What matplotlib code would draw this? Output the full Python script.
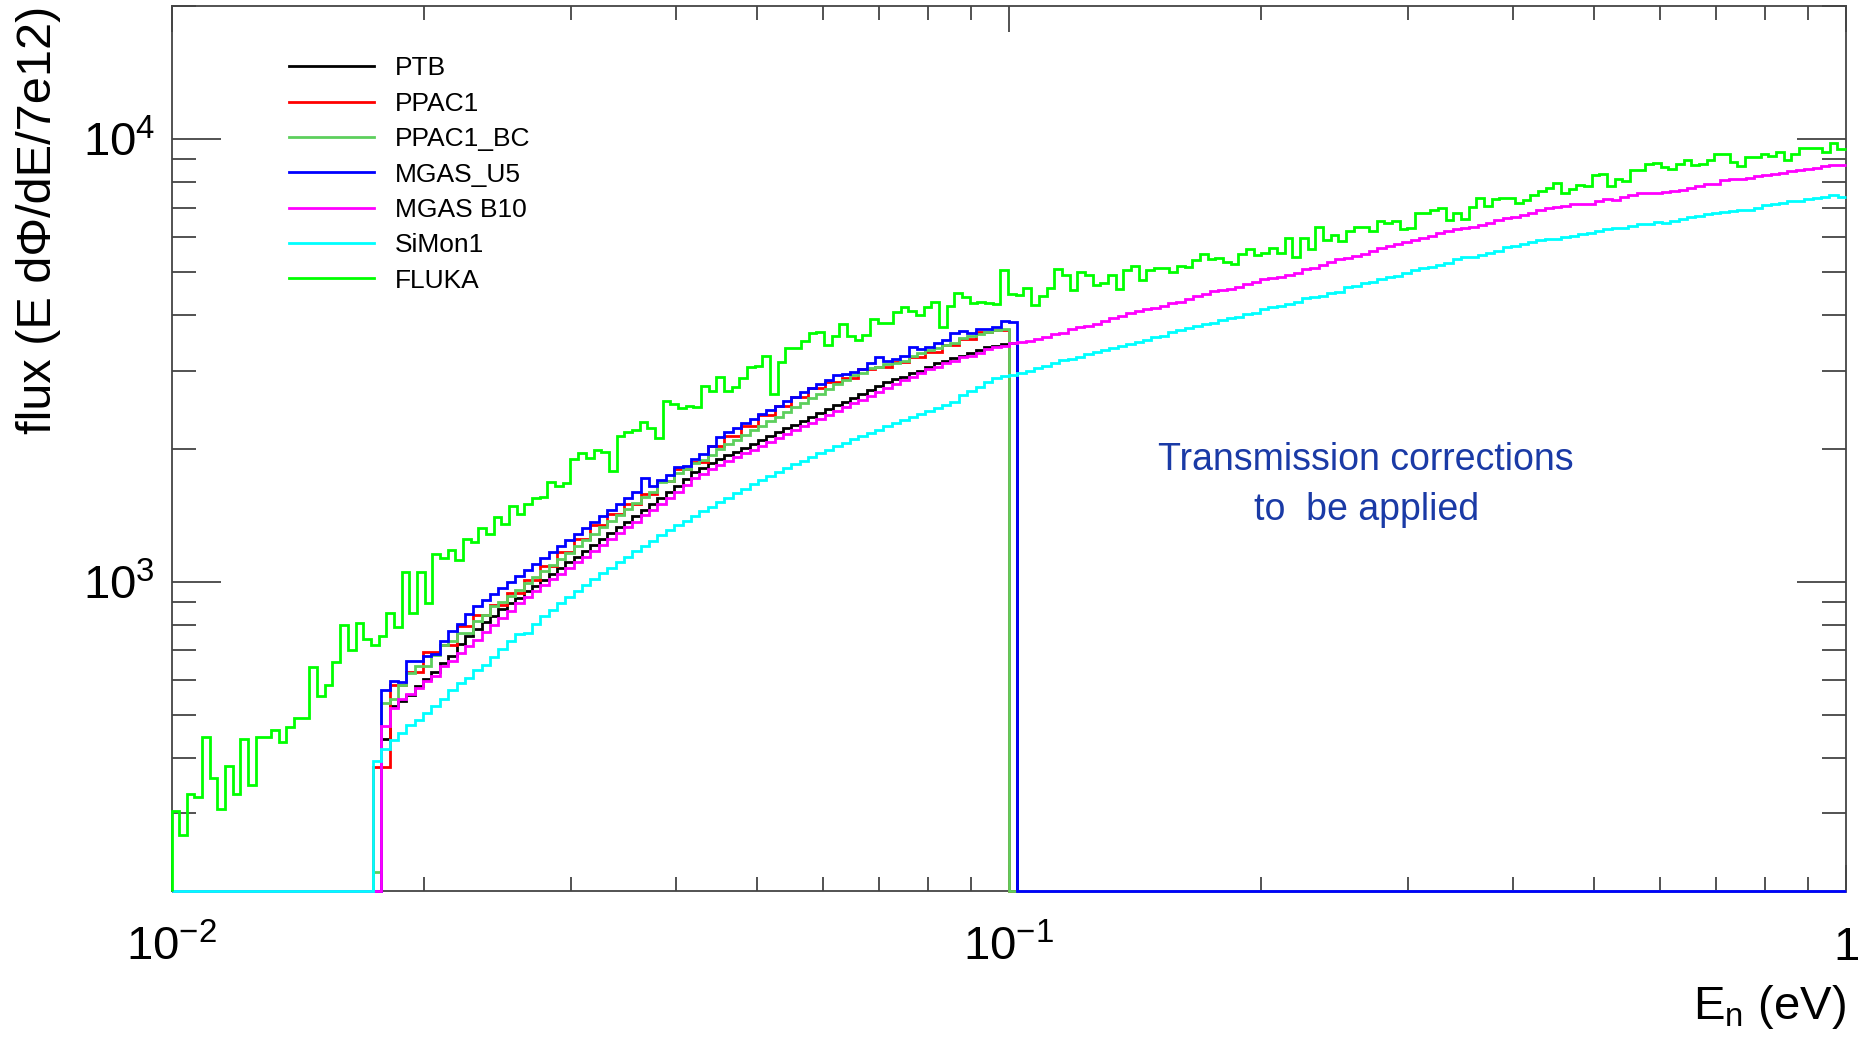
import numpy as np
import matplotlib.pyplot as plt
from matplotlib.lines import Line2D
from matplotlib.ticker import FixedLocator, FixedFormatter, LogLocator, NullFormatter

plt.rcParams['font.family'] = ['Liberation Sans', 'DejaVu Sans']
plt.rcParams['mathtext.fontset'] = 'custom'
plt.rcParams['mathtext.rm'] = 'Liberation Sans'
plt.rcParams['mathtext.it'] = 'Liberation Sans:italic'

# energy binning: 100 bins/decade for most detectors, PPAC1 50/decade, FLUKA its own grid
edges = np.logspace(-2, 0, 201)
edges_ppac = np.logspace(-2, 0, 101)
edges_fluka = np.clip(np.logspace(-2.0100, 0.0079, 221), 0.01, 1.0)

# flux values per bin (bin index of first value in *_start)
ptb_start = 25
ptb = [440, 523, 537, 556, 580, 604, 624, 655, 679, 723,
       755, 780, 810, 835, 869, 895, 920, 951, 980, 1011,
       1042, 1073, 1106, 1140, 1174, 1210, 1249, 1288, 1327, 1367,
       1409, 1455, 1499, 1545, 1591, 1642, 1706, 1766, 1806, 1853,
       1892, 1930, 1969, 2009, 2049, 2091, 2133, 2176, 2220, 2265,
       2310, 2357, 2404, 2452, 2502, 2552, 2604, 2656, 2711, 2766,
       2821, 2870, 2908, 2958, 2999, 3063, 3116, 3160, 3199, 3237,
       3294, 3340, 3386, 3409, 3440, 3458]

ppac1_start = 12
ppac1 = [381, 585, 624, 692, 720, 794, 839, 888, 945, 1010,
         1085, 1165, 1250, 1340, 1420, 1500, 1579, 1690, 1796, 1869,
         2031, 2130, 2250, 2380, 2500, 2620, 2740, 2820, 2893, 3020,
         3063, 3132, 3215, 3311, 3428, 3531, 3673, 3706]

ppac1_bc_start = 24
ppac1_bc = [221, 532, 542, 585, 622, 644, 646, 684, 721, 733,
            766, 766, 814, 842, 880, 898, 928, 959, 991, 1023,
            1057, 1091, 1127, 1164, 1202, 1242, 1282, 1327, 1371, 1416,
            1462, 1510, 1558, 1591, 1676, 1693, 1759, 1796, 1853, 1886,
            1935, 1996, 2046, 2094, 2148, 2198, 2249, 2307, 2360, 2421,
            2477, 2541, 2600, 2661, 2729, 2793, 2864, 2933, 2969, 3044,
            3063, 3101, 3116, 3160, 3237, 3280, 3337, 3370, 3428, 3458,
            3549, 3592, 3636, 3673, 3700, 3720]

mgas_u5_start = 25
mgas_u5 = [568, 598, 594, 661, 661, 679, 688, 733, 773, 804,
           845, 883, 911, 940, 968, 1000, 1030, 1064, 1096, 1132,
           1167, 1205, 1242, 1282, 1321, 1365, 1406, 1452, 1496, 1545,
           1594, 1714, 1647, 1699, 1744, 1815, 1827, 1895, 1945, 2031,
           2129, 2178, 2228, 2280, 2333, 2388, 2443, 2500, 2559, 2618,
           2679, 2742, 2805, 2864, 2933, 2948, 2985, 3020, 3116, 3215,
           3160, 3182, 3237, 3398, 3357, 3386, 3458, 3518, 3655, 3687,
           3642, 3719, 3719, 3758, 3890, 3870]

mgas_b10_start = 25
mgas_b10 = [473, 519, 543, 558, 575, 598, 613, 644, 661, 690,
            714, 737, 770, 800, 828, 857, 895, 923, 951, 982,
            1012, 1042, 1074, 1107, 1140, 1175, 1213, 1250, 1288, 1327,
            1368, 1413, 1455, 1500, 1545, 1594, 1656, 1715, 1753, 1799,
            1837, 1874, 1912, 1950, 1989, 2030, 2071, 2113, 2155, 2199,
            2243, 2288, 2334, 2381, 2429, 2478, 2528, 2579, 2632, 2685,
            2739, 2795, 2851, 2908, 2969, 3020, 3063, 3116, 3160, 3215,
            3237, 3294, 3351, 3386, 3416, 3458, 3480, 3507, 3531, 3568,
            3624, 3655, 3725, 3758, 3784, 3823, 3890, 3938, 3993, 4042,
            4091, 4127, 4149, 4198, 4256, 4293, 4353, 4429, 4467, 4538,
            4561, 4585, 4641, 4697, 4763, 4831, 4864, 4890, 4932, 4993,
            5088, 5124, 5195, 5268, 5351, 5397, 5453, 5501, 5596, 5665,
            5734, 5794, 5844, 5916, 5989, 6051, 6124, 6199, 6264, 6307,
            6341, 6396, 6474, 6566, 6622, 6679, 6737, 6821, 6916, 6977,
            7013, 7074, 7124, 7140, 7150, 7245, 7321, 7283, 7385, 7475,
            7540, 7566, 7578, 7605, 7645, 7698, 7764, 7846, 7914, 7942,
            8080, 8123, 8151, 8194, 8264, 8322, 8366, 8409, 8482, 8541,
            8586, 8630, 8690, 8736, 8736]

simon1_start = 24
simon1 = [394, 419, 438, 454, 474, 486, 505, 523, 543, 568,
          591, 606, 631, 649, 676, 705, 733, 762, 766, 804,
          835, 865, 895, 925, 955, 984, 1014, 1045, 1076, 1109,
          1140, 1172, 1205, 1239, 1274, 1306, 1340, 1374, 1409, 1445,
          1479, 1514, 1549, 1585, 1622, 1660, 1694, 1730, 1766, 1803,
          1841, 1879, 1914, 1950, 1986, 2023, 2061, 2099, 2138, 2173,
          2208, 2244, 2280, 2317, 2355, 2393, 2432, 2472, 2512, 2553,
          2640, 2700, 2760, 2830, 2892, 2917, 2935, 2960, 2999, 3036,
          3078, 3127, 3170, 3183, 3215, 3271, 3299, 3340, 3369, 3416,
          3446, 3475, 3518, 3580, 3598, 3673, 3705, 3738, 3790, 3816,
          3836, 3903, 3937, 3972, 4020, 4055, 4133, 4169, 4198, 4235,
          4294, 4369, 4392, 4430, 4499, 4523, 4642, 4666, 4723, 4748,
          4831, 4890, 4916, 4976, 5062, 5106, 5151, 5195, 5240, 5351,
          5407, 5425, 5472, 5520, 5587, 5695, 5734, 5794, 5845, 5916,
          5947, 5947, 5999, 6051, 6110, 6124, 6199, 6253, 6307, 6307,
          6362, 6428, 6428, 6507, 6451, 6530, 6587, 6656, 6713, 6760,
          6796, 6831, 6878, 6914, 6914, 6975, 7097, 7134, 7159, 7245,
          7258, 7321, 7347, 7385, 7475, 7385]

# FLUKA: first bin lies below 0.01 eV (empty), the last one is cut at 1 eV
fluka = [0, 303, 267, 332, 327, 445, 361, 307, 384, 332, 441,
         347, 445, 445, 463, 434, 469, 491, 491, 641, 553,
         585, 659, 800, 702, 807, 743, 721, 755, 850, 789,
         1050, 850, 1050, 895, 1155, 1131, 1180, 1120, 1250, 1230,
         1320, 1280, 1400, 1350, 1480, 1420, 1500, 1545, 1558, 1679,
         1647, 1670, 1895, 1958, 1908, 1986, 1969, 1775, 2136, 2185,
         2204, 2301, 2230, 2117, 2566, 2518, 2475, 2497, 2480, 2770,
         2699, 2897, 2700, 2760, 2892, 3052, 3074, 3237, 2650, 3144,
         3370, 3370, 3507, 3654, 3673, 3428, 3592, 3823, 3592, 3519,
         3611, 3916, 3836, 3849, 4076, 4169, 4098, 4007, 4183, 4278,
         3770, 4198, 4483, 4406, 4256, 4278, 4256, 4234, 5061, 4460,
         4450, 4617, 4220, 4422, 4603, 5087, 4932, 4561, 5001, 4932,
         4682, 4723, 4932, 4585, 5062, 5168, 4806, 5062, 5106, 5124,
         5001, 5168, 5132, 5332, 5502, 5359, 5396, 5267, 5221, 5502,
         5637, 5473, 5540, 5685, 5521, 5987, 5425, 5989, 5636, 6341,
         5916, 6073, 5895, 6212, 6341, 6341, 6212, 6542, 6474, 6542,
         6254, 6287, 6821, 6821, 6916, 6977, 6566, 6821, 6589, 7038,
         7349, 7062, 7311, 7349, 7349, 7194, 7282, 7500, 7644, 7778,
         7983, 7565, 7737, 7900, 7832, 8292, 8337, 7832, 8123, 8054,
         8511, 8511, 8811, 8842, 8660, 8556, 8811, 8965, 8735, 8781,
         8996, 9249, 9249, 8888, 8705, 9123, 9123, 9249, 9155, 9362,
         8996, 9266, 9560, 9560, 9560, 9362, 9811, 9526, 9526]

ymin, ymax = 200, 20000


def spectrum(vals, start, nbins):
    full = np.zeros(nbins)
    full[start:start + len(vals)] = vals
    return np.maximum(full, ymin)   # empty bins sit on the frame like in ROOT


series = [
    ('PTB', spectrum(ptb, ptb_start, 200), edges, 'black'),
    ('PPAC1', spectrum(ppac1, ppac1_start, 100), edges_ppac, '#ff0000'),
    ('PPAC1_BC', spectrum(ppac1_bc, ppac1_bc_start, 200), edges, '#5dcf5d'),
    ('MGAS_U5', spectrum(mgas_u5, mgas_u5_start, 200), edges, '#0000ff'),
    ('MGAS B10', spectrum(mgas_b10, mgas_b10_start, 200), edges, '#ff00ff'),
    ('SiMon1', spectrum(simon1, simon1_start, 200), edges, '#00ffff'),
    ('FLUKA', spectrum(fluka, 0, 220), edges_fluka, '#00ff00'),
]

fig = plt.figure(figsize=(18.63, 10.38), dpi=100)
ax = fig.add_axes([0.0923, 0.1416, 0.8986, 0.8526])

for name, vals, ed, col in series:
    ax.stairs(vals, ed, baseline=None, color=col, lw=2.0, clip_on=False, zorder=3)

ax.set_xscale('log')
ax.set_yscale('log')
ax.set_xlim(0.01, 1)
ax.set_ylim(ymin, ymax)

for sp in ax.spines.values():
    sp.set_color('#444444')
    sp.set_linewidth(1.3)

ax.xaxis.set_major_locator(FixedLocator([0.01, 0.1, 1]))
ax.xaxis.set_major_formatter(FixedFormatter([r'$10^{-2}$', r'$10^{-1}$', '1']))
ax.xaxis.set_minor_locator(LogLocator(base=10, subs=np.arange(2, 10), numticks=20))
ax.xaxis.set_minor_formatter(NullFormatter())
ax.yaxis.set_major_locator(FixedLocator([1e3, 1e4]))
ax.yaxis.set_major_formatter(FixedFormatter([r'$10^{3}$', r'$10^{4}$']))
ax.yaxis.set_minor_locator(LogLocator(base=10, subs=np.arange(2, 10), numticks=20))
ax.yaxis.set_minor_formatter(NullFormatter())

ax.tick_params(which='both', direction='in', top=True, right=True,
               color='#444444', width=1.3, labelsize=34)
ax.tick_params(axis='x', which='major', length=19, pad=25)
ax.tick_params(axis='x', which='minor', length=10)
ax.tick_params(axis='y', which='major', length=35, pad=12)
ax.tick_params(axis='y', which='minor', length=17)

ax.set_ylabel('flux (E d\u03a6/dE/7e12)', fontsize=35, loc='top')
ax.yaxis.set_label_coords(-0.066, 1.0)
ax.set_xlabel(r'E$_{\rm n}$ (eV)', fontsize=34, loc='right')
ax.xaxis.set_label_coords(1.0, -0.104)

handles = [Line2D([], [], color=col, lw=2.0) for _, _, _, col in series]
labels = [name for name, _, _, _ in series]
ax.legend(handles, labels, loc='upper left', bbox_to_anchor=(0.07, 0.943),
          frameon=False, fontsize=19, handlelength=3.2, handletextpad=0.8,
          labelspacing=0.43, borderpad=0, borderaxespad=0)

ax.text(0.7133, 0.4587, 'Transmission corrections\nto  be applied', transform=ax.transAxes,
        ha='center', va='center', multialignment='center', fontsize=27,
        linespacing=1.5, color='#1a3aa6')

fig.savefig('out.png', dpi=100)
